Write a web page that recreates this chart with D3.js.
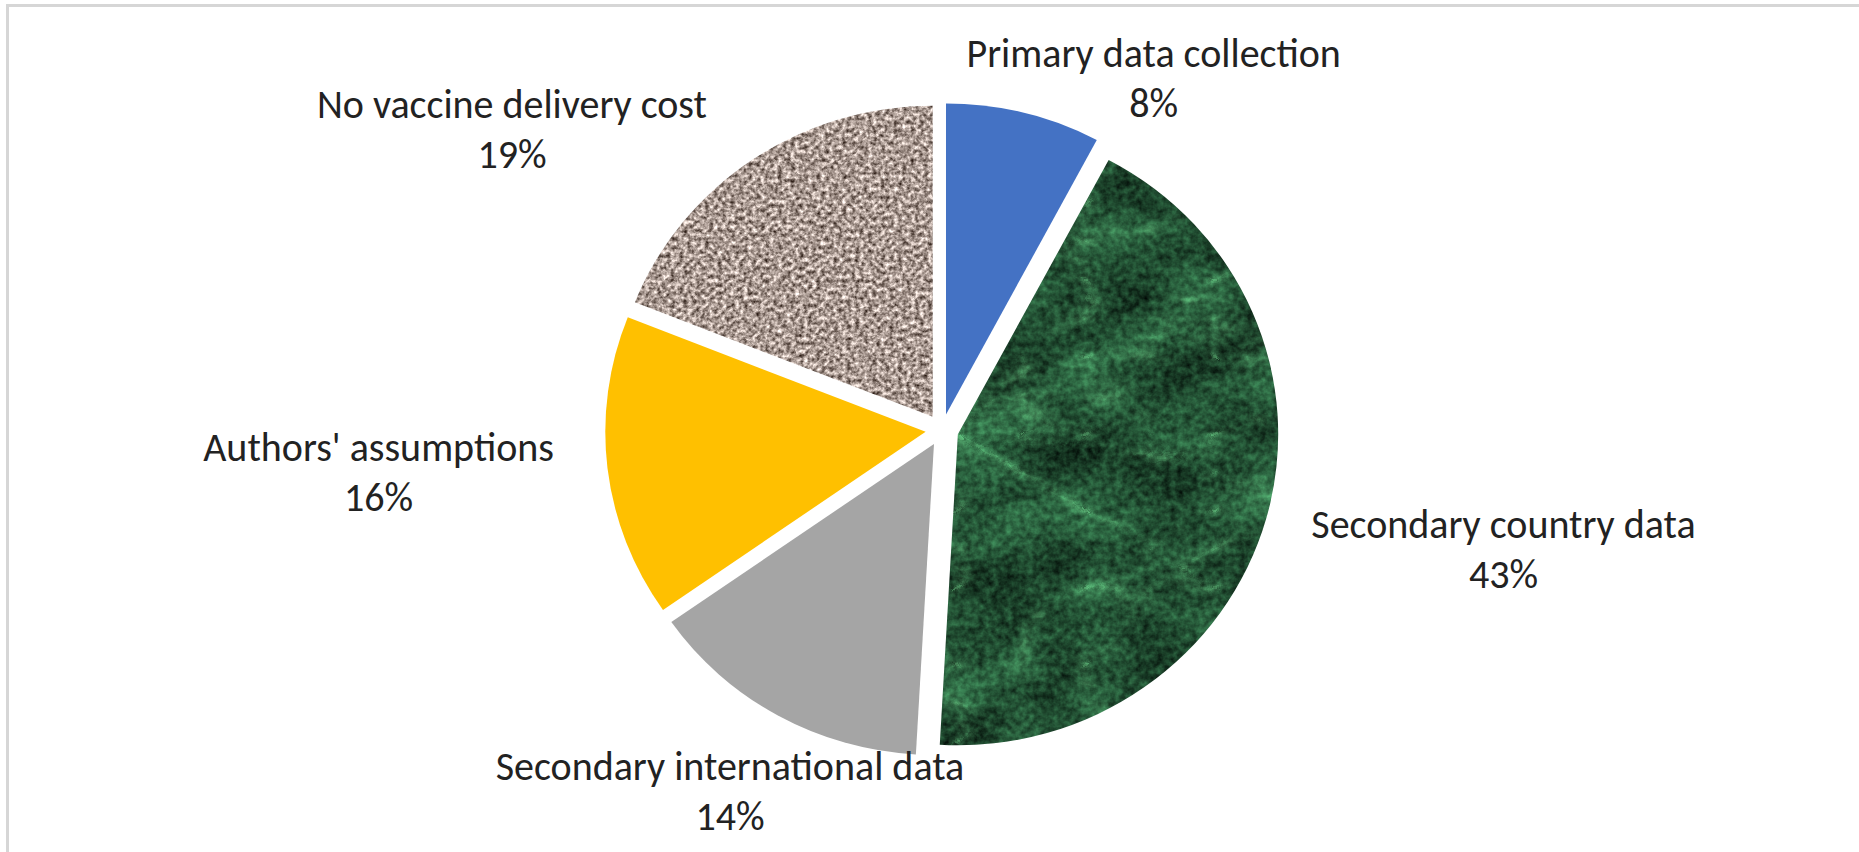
<!DOCTYPE html>
<html>
<head>
<meta charset="utf-8">
<script src="https://cdn.jsdelivr.net/npm/d3@7"></script>
<style>
html, body { margin: 0; padding: 0; background: #fff; }
svg { display: block; }
.label { font-family: Carlito, Calibri, Lato, sans-serif; font-size: 40px; fill: #222; }
</style>
</head>
<body>
<svg id="chart" width="1859" height="852"></svg>
<script>
// data (shares in %; labels show them rounded)
var categories = ["Primary data collection", "Secondary country data", "Secondary international data", "Authors' assumptions", "No vaccine delivery cost"];
var shares = [7.8, 43.1, 14.4, 15.7, 19.0];
var colors = ["#4472c4", "url(#marble)", "#a5a5a5", "#ffc000", "url(#granite)"];

// hand placed data labels: angle (deg, clockwise from 12 o'clock) and distance from pie centre
var labelAngle = [31, 102, 210.4, 265.7, 305];
var labelDist = [411, 574, 419, 565, 525];

var svg = d3.select("svg#chart"),
    width = +svg.attr("width"),
    height = +svg.attr("height");

var cx = 942, cy = 430,
    radius = 311,
    explode = 16;

var fmt = d3.format(".0f");

// frame lines (top + left) of the original screenshot
svg.append("path")
  .attr("d", "M7.5," + height + "V5.5H" + width)
  .attr("fill", "none")
  .attr("stroke", "#d6d6d6")
  .attr("stroke-width", 3);

// textures
var defs = svg.append("defs");

// stone / granite for the tan slice
var gran = defs.append("filter").attr("id", "granite")
  .attr("color-interpolation-filters", "sRGB");
gran.append("feTurbulence").attr("type", "fractalNoise").attr("baseFrequency", 0.24)
  .attr("numOctaves", 3).attr("seed", 5).attr("result", "noise");
gran.append("feColorMatrix").attr("in", "noise").attr("type", "matrix")
  .attr("values", "1.25 0 0 0 0.04  1.25 0 0 0 -0.02  1.25 0 0 0 -0.05  0 0 0 0 1")
  .attr("result", "col");
gran.append("feComposite").attr("in", "col").attr("in2", "SourceGraphic").attr("operator", "in");

// green marble
var mar = defs.append("filter").attr("id", "marble")
  .attr("color-interpolation-filters", "sRGB");
mar.append("feTurbulence").attr("type", "fractalNoise").attr("baseFrequency", "0.012 0.018")
  .attr("numOctaves", 4).attr("seed", 11).attr("result", "cloudRaw");
mar.append("feColorMatrix").attr("in", "cloudRaw").attr("type", "matrix")
  .attr("values", "1 0 0 0 0  1 0 0 0 0  1 0 0 0 0  0 0 0 0 1").attr("result", "cloud");
mar.append("feTurbulence").attr("type", "fractalNoise").attr("baseFrequency", 0.15)
  .attr("numOctaves", 3).attr("seed", 8).attr("result", "grainRaw");
mar.append("feColorMatrix").attr("in", "grainRaw").attr("type", "matrix")
  .attr("values", "1 0 0 0 0  1 0 0 0 0  1 0 0 0 0  0 0 0 0 1").attr("result", "grain");
mar.append("feComposite").attr("in", "cloud").attr("in2", "grain").attr("operator", "arithmetic")
  .attr("k1", 0).attr("k2", 0.5).attr("k3", 0.5).attr("k4", 0).attr("result", "lum");
mar.append("feColorMatrix").attr("in", "lum").attr("type", "matrix")
  .attr("values", "0.4 0 0 0 -0.07  0.85 0 0 0 -0.12  0.55 0 0 0 -0.08  0 0 0 0 1")
  .attr("result", "base");
mar.append("feTurbulence").attr("type", "turbulence").attr("baseFrequency", "0.008 0.013")
  .attr("numOctaves", 4).attr("seed", 3).attr("result", "ridgeRaw");
mar.append("feColorMatrix").attr("in", "ridgeRaw").attr("type", "matrix")
  .attr("values", "1 0 0 0 0  1 0 0 0 0  1 0 0 0 0  0 0 0 0 1").attr("result", "ridge");
var ct = mar.append("feComponentTransfer").attr("in", "ridge").attr("result", "veinL");
["feFuncR", "feFuncG", "feFuncB"].forEach(function(f) {
  ct.append(f).attr("type", "table").attr("tableValues", "0.5 0.14 0.02 0 0 0 0 0 0 0");
});
mar.append("feColorMatrix").attr("in", "veinL").attr("type", "matrix")
  .attr("values", "0.35 0 0 0 0  0.6 0 0 0 0  0.4 0 0 0 0  0 0 0 0 1").attr("result", "vein");
mar.append("feComposite").attr("in", "base").attr("in2", "vein").attr("operator", "arithmetic")
  .attr("k1", 0).attr("k2", 1).attr("k3", 1).attr("k4", 0).attr("result", "marb");
mar.append("feComposite").attr("in", "marb").attr("in2", "SourceGraphic").attr("operator", "in");

// pie
var pie = d3.pie().sort(null).value(function(d) { return d; });
var arcs = pie(shares);
var arc = d3.arc().innerRadius(0).outerRadius(radius);

var pieG = svg.append("g")
  .attr("transform", "translate(" + cx + "," + cy + ") scale(1.03,1)");

pieG.selectAll("path.slice")
  .data(arcs)
  .enter().append("path")
  .attr("class", "slice")
  .attr("d", arc)
  .attr("transform", function(d) {
    var mid = (d.startAngle + d.endAngle) / 2;
    return "translate(" + (Math.sin(mid) * explode) + "," + (-Math.cos(mid) * explode) + ")";
  })
  .attr("fill", function(d, i) { return colors[i].indexOf("url") === 0 ? "#000" : colors[i]; })
  .attr("filter", function(d, i) { return colors[i].indexOf("url") === 0 ? colors[i] : null; });

// labels
var labelG = svg.append("g").attr("transform", "translate(" + cx + "," + cy + ")");

var label = labelG.selectAll("text.label")
  .data(arcs)
  .enter().append("text")
  .attr("class", "label")
  .attr("text-anchor", "middle")
  .attr("transform", function(d, i) {
    var a = labelAngle[i] * Math.PI / 180;
    return "translate(" + (Math.sin(a) * labelDist[i]) + "," + (-Math.cos(a) * labelDist[i]) + ")";
  });

label.append("tspan")
  .attr("x", 0).attr("y", -11)
  .text(function(d, i) { return categories[i]; });
label.append("tspan")
  .attr("x", 0).attr("y", 39)
  .text(function(d) { return fmt(d.value) + "%"; });
</script>
</body>
</html>
